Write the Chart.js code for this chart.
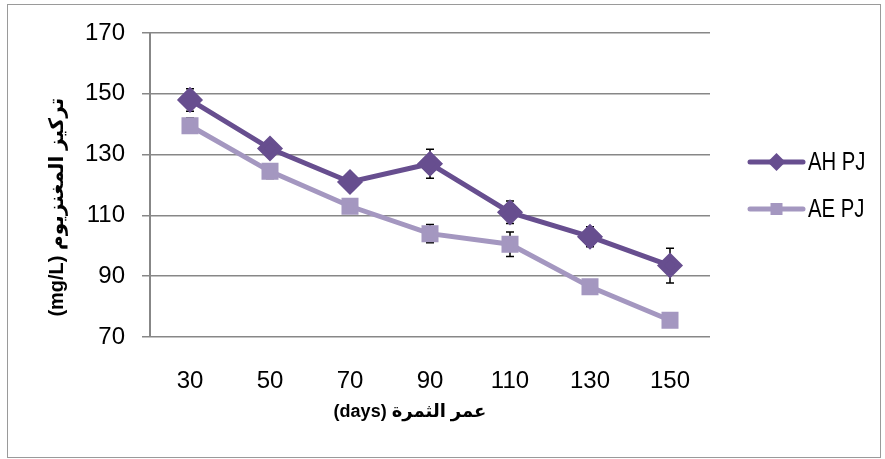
<!DOCTYPE html>
<html>
<head>
<meta charset="utf-8">
<script src="https://cdn.jsdelivr.net/npm/chart.js@4.4.1/dist/chart.umd.min.js"></script>
<style>
  body { margin: 0; background: #fff; }
  #wrap { position: relative; width: 885px; height: 459px; }
  #frame { position: absolute; left: 7px; top: 4px; width: 872px; height: 452px; border: 1px solid #9a9a9a; pointer-events: none; }
</style>
</head>
<body>
<div id="wrap">
  <canvas id="myChart" width="885" height="459"></canvas>
  <div id="frame"></div>
</div>
<script>
// values
var days = ['30', '50', '70', '90', '110', '130', '150'];
var ahPJ = [148, 132, 121, 127, 111, 103, 93.5];
var aePJ = [139.5, 124.5, 113, 104, 100.5, 86.5, 75.5];
var ahErr = [3.7, 1.5, 1, 4.8, 3.7, 3.3, 5.7];
var aeErr = [2.5, 2.4, 1, 3, 4, 2, 2];
var yTicks = [70, 90, 110, 130, 150, 170];

var ahColor = '#674e8f';
var aeColor = '#a497c0';

// titles sit a little off centre in the original, the nbsp pad does that
var pad = '\u00a0\u00a0\u00a0\u00a0\u00a0\u00a0\u00a0\u00a0';

// error bars drawn through the y scale, under the markers
var errorBars = {
    id: 'errorBars',
    beforeDatasetsDraw: function (chart) {
        var ctx = chart.ctx;
        var y = chart.scales.y;
        ctx.save();
        ctx.strokeStyle = '#000';
        ctx.lineWidth = 1.5;
        chart.data.datasets.forEach(function (ds, i) {
            var meta = chart.getDatasetMeta(i);
            meta.data.forEach(function (pt, j) {
                var v = ds.data[j], e = ds.errors[j];
                var top = y.getPixelForValue(v + e);
                var bot = y.getPixelForValue(v - e);
                ctx.beginPath();
                ctx.moveTo(pt.x, top); ctx.lineTo(pt.x, bot);
                ctx.moveTo(pt.x - 4, top); ctx.lineTo(pt.x + 4, top);
                ctx.moveTo(pt.x - 4, bot); ctx.lineTo(pt.x + 4, bot);
                ctx.stroke();
            });
        });
        ctx.restore();
    }
};

// excel style legend: line with the marker in the middle
var sideLegend = {
    id: 'sideLegend',
    afterDraw: function (chart) {
        var ctx = chart.ctx;
        var area = chart.chartArea;
        var x0 = area.right + 40;
        var mid = (area.top + area.bottom) / 2;
        ctx.save();
        chart.data.datasets.forEach(function (ds, i) {
            var yy = mid + 24 + (i - 1) * 47;
            ctx.strokeStyle = ds.borderColor;
            ctx.lineWidth = 5;
            ctx.lineCap = 'round';
            ctx.beginPath();
            ctx.moveTo(x0, yy); ctx.lineTo(x0 + 53, yy);
            ctx.stroke();
            ctx.fillStyle = ds.borderColor;
            var cx = x0 + 26.5;
            ctx.beginPath();
            if (ds.pointStyle === 'rectRot') {
                ctx.moveTo(cx, yy - 9); ctx.lineTo(cx + 9, yy);
                ctx.lineTo(cx, yy + 9); ctx.lineTo(cx - 9, yy);
            } else {
                ctx.rect(cx - 6, yy - 6, 12, 12);
            }
            ctx.fill();
            // narrow label, like the original calibri text
            ctx.fillStyle = '#000';
            ctx.font = '26px "Liberation Sans", Arial, sans-serif';
            ctx.textBaseline = 'middle';
            ctx.save();
            ctx.translate(x0 + 58, yy);
            ctx.scale(0.78, 1);
            ctx.fillText(ds.label, 0, 1);
            ctx.restore();
        });
        ctx.restore();
    }
};

new Chart(document.getElementById('myChart'), {
    type: 'line',
    data: {
        labels: days,
        datasets: [{
            label: 'AH PJ',
            data: ahPJ,
            errors: ahErr,
            borderColor: ahColor,
            backgroundColor: ahColor,
            borderWidth: 5,
            pointStyle: 'rectRot',
            pointRadius: 9.5,
            pointHoverRadius: 9.5,
            tension: 0
        }, {
            label: 'AE PJ',
            data: aePJ,
            errors: aeErr,
            borderColor: aeColor,
            backgroundColor: aeColor,
            borderWidth: 5,
            pointStyle: 'rect',
            pointRadius: 8.5,
            pointHoverRadius: 8.5,
            tension: 0
        }]
    },
    options: {
        responsive: false,
        animation: false,
        layout: { padding: { left: 45, right: 175, top: 33, bottom: 36 } },
        plugins: {
            legend: { display: false },
            tooltip: { enabled: false }
        },
        scales: {
            x: {
                offset: true,
                grid: { display: false },
                border: { display: false },
                ticks: { color: '#000', padding: 22, font: { family: 'Arial', size: 24 } },
                title: {
                    display: true,
                    text: '(days) عمر الثمرة' + pad,
                    color: '#000',
                    padding: { top: 4, bottom: 0 },
                    font: { family: 'Arial, "DejaVu Sans"', size: 18, weight: 'bold' }
                },
                afterFit: function (scale) { scale.height = 459 - 337 - 36; }
            },
            y: {
                min: 70,
                max: 170,
                afterBuildTicks: function (scale) {
                    scale.ticks = yTicks.map(function (v) { return { value: v }; });
                },
                grid: { color: '#878787', lineWidth: 1.5, tickLength: 8 },
                border: { color: '#878787', width: 2 },
                ticks: { color: '#000', padding: 17, font: { family: 'Arial', size: 24 } },
                title: {
                    display: true,
                    text: '(mg/L) تركيز المغنزيوم' + pad,
                    color: '#000',
                    padding: 0,
                    font: { family: 'Arial, "DejaVu Sans"', size: 20, weight: 'bold' }
                },
                afterFit: function (scale) { scale.width = 150 - 45; }
            }
        }
    },
    plugins: [errorBars, sideLegend]
});
</script>
</body>
</html>
